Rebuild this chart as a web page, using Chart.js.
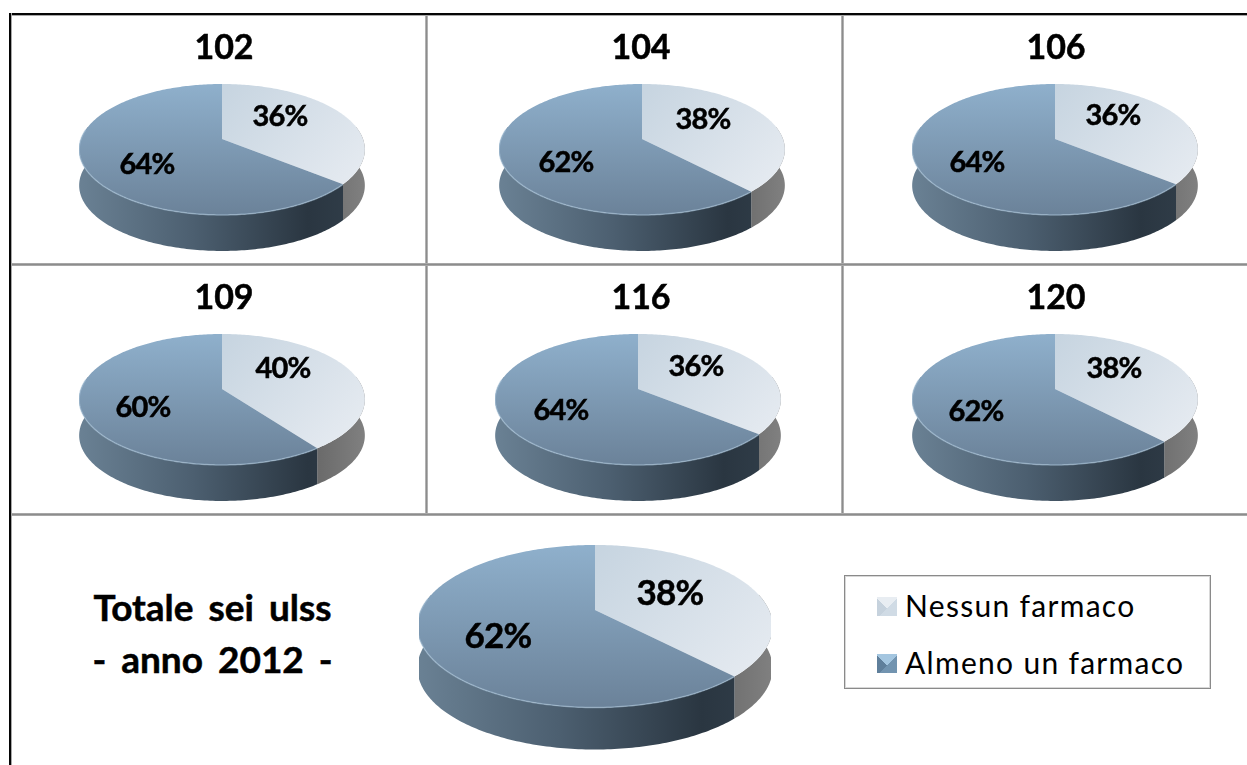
<!DOCTYPE html>
<html>
<head>
<meta charset="utf-8">
<script src="https://cdn.jsdelivr.net/npm/chart.js@4"></script>
<style>
  html, body { margin: 0; padding: 0; width: 1247px; height: 765px; overflow: hidden; background: #fff; }
  body { position: relative; font-family: Lato, "Open Sans", sans-serif; color: #000; }
  canvas { position: absolute; }
  .line { position: absolute; }
  .h { height: 3px; background: linear-gradient(#b4b4b4, #8c8c8c 50%, #b4b4b4); }
  .v { width: 3px; background: linear-gradient(90deg, #c4c4c4, #8c8c8c 50%, #c4c4c4); }
  .title { position: absolute; font-weight: 700; font-size: 34px; line-height: 36px; text-align: center; transform: translateX(-50%); white-space: nowrap; -webkit-text-stroke: 0.5px #000; }
  .total { position: absolute; left: 212.5px; top: 581px; width: 320px; margin-left: -160px; text-align: center; font-weight: 700; font-size: 37px; line-height: 52px; word-spacing: 6px; -webkit-text-stroke: 0.5px #000; }
  .legend { position: absolute; left: 844px; top: 575px; width: 367px; height: 114px; border: 1px solid #8a8a8a; box-sizing: border-box; box-shadow: inset 0 0 0 1px #d8d8d8; }
  .legend div { position: absolute; left: 60px; font-size: 30px; line-height: 34px; letter-spacing: 1.3px; white-space: nowrap; }
  .legend i { position: absolute; left: 32px; width: 20px; height: 19px; }
</style>
</head>
<body>
<div class="line" style="left:9px;right:0;top:13px;height:2px;background:#050505"></div>
<div class="line" style="left:9px;right:0;top:15px;height:1px;background:#a8a8a8"></div>
<div class="line" style="left:9px;top:13px;height:752px;width:2px;background:#050505"></div>
<div class="line" style="left:11px;top:13px;height:752px;width:1px;background:#a8a8a8"></div>
<div class="line v" style="left:425px;top:16px;height:497px"></div>
<div class="line v" style="left:841px;top:16px;height:497px"></div>
<div class="line h" style="left:12px;right:0;top:263px"></div>
<div class="line h" style="left:12px;right:0;top:513px"></div>

<div class="total">Totale sei ulss<br>- anno 2012 -</div>
<div class="legend" id="legend"></div>

<script>
// Shares per health unit, in percent
const seriesLabels = ['Nessun farmaco', 'Almeno un farmaco'];
const units = ['102', '104', '106', '109', '116', '120', 'Totale'];
const nessunFarmaco = [36, 38, 36, 40, 36, 38, 38];
const almenoUnFarmaco = [64, 62, 64, 60, 64, 62, 62];

// Where each pie sits: apex x/y, disc radius, wall depth, perspective strength,
// then the offsets of its two percent labels from the apex.
const pieLayout = [
  { x: 222,  y: 139, r: 141, depth: 36, p: 0.16, ratio: 0.4525, font: 29, title: [224, 46],   a: [58, -22],  b: [-75, 26] },
  { x: 642,  y: 139, r: 141, depth: 36, p: 0.16, ratio: 0.4525, font: 29, title: [641, 46],   a: [61, -19],  b: [-76, 24] },
  { x: 1055, y: 139, r: 141, depth: 36, p: 0.16, ratio: 0.4525, font: 29, title: [1056, 46],  a: [58, -23],  b: [-78, 24] },
  { x: 222,  y: 389, r: 141, depth: 36, p: 0.16, ratio: 0.4525, font: 29, title: [224, 296],  a: [61, -20],  b: [-79, 19] },
  { x: 638,  y: 389, r: 141, depth: 36, p: 0.16, ratio: 0.4525, font: 29, title: [641, 296],  a: [58, -22],  b: [-77, 22] },
  { x: 1055, y: 389, r: 141, depth: 36, p: 0.16, ratio: 0.4525, font: 29, title: [1056, 296], a: [59, -20],  b: [-79, 23] },
  { x: 595,  y: 610, r: 174, depth: 42, p: 0.20, ratio: 0.4483, font: 35, title: null,        a: [75, -16],  b: [-97, 27] }
];

const faceColors = {
  light: ['#c6d4e0', '#e6ebf1'],
  dark: ['#8fb0cc', '#6b8299'],
  wallDark: ['#6a8194', '#4c5f70', '#2a3641', '#323f4b'],
  wallLight: ['#5f5f5f', '#808080']
};

// Projects a point of the unit disc onto the tilted, foreshortened pie
function project(layout, el, angle, drop) {
  const X = Math.cos(angle), Y = Math.sin(angle);
  const w = 1 - layout.p * Y;
  const A = el.outerRadius;
  return [el.x + A * X / w, el.y + layout.ratio * A * Y / w + (drop || 0)];
}

function traceRim(ctx, layout, el, from, to, drop, reverse) {
  const n = Math.max(2, Math.ceil(Math.abs(to - from) * 60));
  for (let i = 0; i <= n; i++) {
    const t = reverse ? 1 - i / n : i / n;
    const p = project(layout, el, from + (to - from) * t, drop);
    ctx.lineTo(p[0], p[1]);
  }
}

// Replaces the flat sectors with extruded, perspective ones built from the
// angles the pie controller computed for each arc.
const pie3d = {
  id: 'pie3d',
  beforeDatasetsDraw(chart, args, opts) {
    const ctx = chart.ctx;
    const layout = opts.layout;
    const arcs = chart.getDatasetMeta(0).data;
    const r = arcs[0].outerRadius;
    const cx = arcs[0].x, cy = arcs[0].y;
    const A = r / Math.sqrt(1 - layout.p * layout.p);

    // Side wall: visible part of the rim of each sector
    arcs.forEach((el, i) => {
      const from = Math.max(el.startAngle, -0.2);
      const to = Math.min(el.endAngle, Math.PI + 0.2);
      if (to <= from) return;
      const g = ctx.createLinearGradient(cx - A, 0, cx + A, 0);
      if (i === 0) {
        g.addColorStop(0.75, faceColors.wallLight[0]);
        g.addColorStop(1, faceColors.wallLight[1]);
      } else {
        g.addColorStop(0, faceColors.wallDark[0]);
        g.addColorStop(0.4, faceColors.wallDark[1]);
        g.addColorStop(0.8, faceColors.wallDark[2]);
        g.addColorStop(1, faceColors.wallDark[3]);
      }
      ctx.beginPath();
      traceRim(ctx, layout, el, from, to, 0, false);
      traceRim(ctx, layout, el, from, to, layout.depth, true);
      ctx.closePath();
      ctx.fillStyle = g;
      ctx.fill();
    });

    // Top faces
    const top = cy - layout.ratio * r / (1 + layout.p);
    const bottom = cy + layout.ratio * r / (1 - layout.p);
    arcs.forEach((el, i) => {
      let g;
      if (i === 0) {
        g = ctx.createLinearGradient(cx, top, cx + A * 0.9, bottom - 20);
        g.addColorStop(0, faceColors.light[0]);
        g.addColorStop(1, faceColors.light[1]);
      } else {
        g = ctx.createLinearGradient(0, top, 0, bottom);
        g.addColorStop(0, faceColors.dark[0]);
        g.addColorStop(1, faceColors.dark[1]);
      }
      ctx.beginPath();
      ctx.moveTo(el.x, el.y);
      traceRim(ctx, layout, el, el.startAngle, el.endAngle, 0, false);
      ctx.closePath();
      ctx.fillStyle = g;
      ctx.fill();
    });

    // Soft highlight along the near edge of the larger sector
    const big = arcs[1];
    ctx.beginPath();
    traceRim(ctx, layout, big, big.startAngle, Math.min(big.endAngle, Math.PI + 0.15), 0, false);
    ctx.strokeStyle = 'rgba(170,196,218,0.55)';
    ctx.lineWidth = 1.5;
    ctx.stroke();

    // Percent labels
    ctx.fillStyle = '#000';
    ctx.strokeStyle = '#000';
    ctx.lineWidth = 0.5;
    ctx.font = '700 ' + layout.font + 'px Lato, sans-serif';
    ctx.letterSpacing = '-0.8px';
    ctx.textAlign = 'center';
    ctx.textBaseline = 'middle';
    const values = chart.data.datasets[0].data;
    [layout.a, layout.b].forEach((off, i) => {
      ctx.fillText(values[i] + '%', cx + off[0], cy + off[1]);
      ctx.strokeText(values[i] + '%', cx + off[0], cy + off[1]);
    });
    return false;
  }
};

units.forEach((unit, i) => {
  const layout = pieLayout[i];
  const size = layout.r * 2 + 4;
  const canvas = document.createElement('canvas');
  canvas.style.left = (layout.x - size / 2) + 'px';
  canvas.style.top = (layout.y - size / 2) + 'px';
  document.body.appendChild(canvas);
  canvas.width = size;
  canvas.height = size;
  new Chart(canvas, {
    type: 'pie',
    data: {
      labels: seriesLabels,
      datasets: [{
        data: [nessunFarmaco[i], almenoUnFarmaco[i]],
        backgroundColor: ['#dbe3eb', '#7d99b3'],
        borderWidth: 0
      }]
    },
    plugins: [pie3d],
    options: {
      responsive: false,
      animation: false,
      layout: { padding: 2 },
      plugins: {
        legend: { display: false },
        tooltip: { enabled: false },
        pie3d: { layout: layout }
      }
    }
  });
  if (layout.title) {
    const t = document.createElement('div');
    t.className = 'title';
    t.textContent = unit;
    t.style.left = layout.title[0] + 'px';
    t.style.top = (layout.title[1] - 18) + 'px';
    document.body.appendChild(t);
  }
});

// Legend entries
const swatches = [
  'conic-gradient(from 315deg at 50% 60%, #e8edf2 0 90deg, #d0dbe5 90deg 270deg, #c6d2dd 270deg)',
  'conic-gradient(from 315deg at 50% 60%, #a4c6e0 0 90deg, #7294b0 90deg 270deg, #5f7f9b 270deg)'
];
const legend = document.getElementById('legend');
seriesLabels.forEach((name, i) => {
  const top = i === 0 ? 12 : 69;
  const s = document.createElement('i');
  s.style.top = (top + 9) + 'px';
  s.style.background = swatches[i];
  legend.appendChild(s);
  const d = document.createElement('div');
  d.style.top = top + 'px';
  d.textContent = name;
  legend.appendChild(d);
});
</script>
</body>
</html>
